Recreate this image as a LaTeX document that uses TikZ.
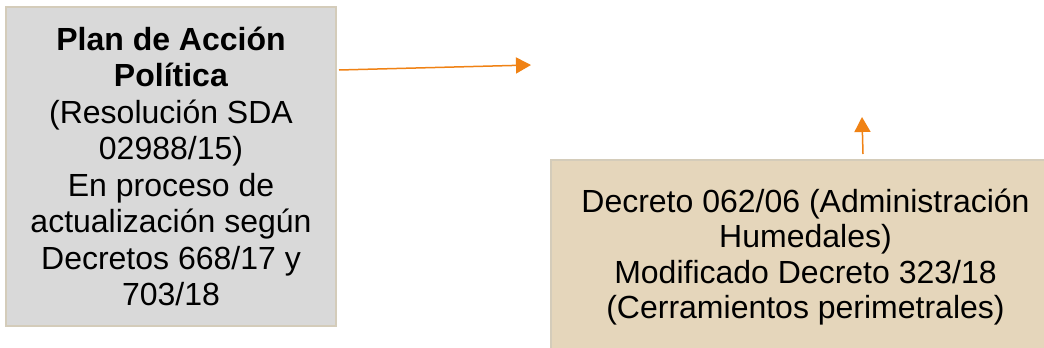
\documentclass[tikz,border=0pt]{standalone}
\usepackage{fontspec}
\setmainfont{Liberation Sans}
\usetikzlibrary{arrows.meta}
\definecolor{boxedge}{RGB}{212,204,186}
\definecolor{plangray}{RGB}{217,217,217}
\definecolor{decretotan}{RGB}{229,214,187}
\definecolor{arroworange}{RGB}{240,130,20}
\tikzset{%
  every box/.style={
    rectangle,
    draw=boxedge,
    line width=2.5pt,
    align=center,
    inner sep=0pt
  },
  box plan/.style={
    fill=plangray,
    minimum width=330pt,
    minimum height=319pt,
    font=\fontsize{32}{36.5}\selectfont
  },
  box decreto/.style={
    fill=decretotan,
    minimum width=509pt,
    minimum height=194pt,
    font=\fontsize{32}{35.5}\selectfont
  },
}

\begin{document}
\begin{tikzpicture}[x=1pt, y=-1pt, >={Triangle[length=15pt,width=16pt]}]

\clip (0,0) rectangle (1044,348);
\fill [white] (0,0) rectangle (1044,348);

\node [every box/.try, box plan/.try] (plan) at (171,166.5)
  {\textbf{Plan de Acción}\\ \textbf{Política}\\ (Resolución SDA\\ 02988/15)\\
   En proceso de\\ actualización según\\ Decretos 668/17 y\\ 703/18};

\node [every box/.try, box decreto/.try] (decreto) at (805.5,257)
  {Decreto 062/06 (Administración\\ Humedales)\\ Modificado Decreto 323/18\\
   (Cerramientos perimetrales)};

\coordinate (plan-out) at (339,70);
\coordinate (plan-tip) at (531,65);
\coordinate (decreto-out) at (863,154);
\coordinate (decreto-tip) at (862,117);

\draw [->, arroworange, line width=1.5pt] (plan-out) -- (plan-tip);
\draw [->, arroworange, line width=1.5pt] (decreto-out) -- (decreto-tip);

\end{tikzpicture}
\end{document}
